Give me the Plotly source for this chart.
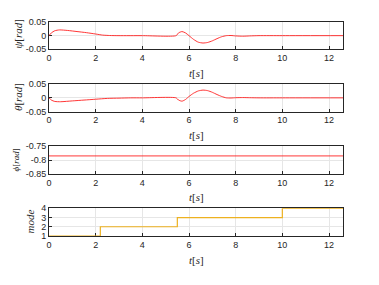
import plotly.graph_objects as go

# ---- data ----
t_psi = [0, 0.1, 0.25, 0.45, 0.8, 1.2, 1.6, 2.0, 2.3, 2.6, 3.0, 4.0, 5.45, 5.55, 5.7, 5.85, 6.0, 6.2, 6.4, 6.6, 6.8, 7.0, 7.2, 7.4, 7.6, 7.8, 8.0, 8.3, 8.6, 9.0, 10.0, 12.6]
psi = [0, 0.010, 0.018, 0.021, 0.019, 0.015, 0.011, 0.006, 0.002, 0.0005, 0, 0, 0, 0.010, 0.015, 0.010, 0.000, -0.014, -0.024, -0.027, -0.025, -0.019, -0.011, -0.004, 0.000, 0.0005, -0.001, -0.002, -0.001, 0, 0, 0]

t_theta = [0, 0.1, 0.25, 0.5, 1.0, 1.5, 2.0, 2.5, 3.0, 3.5, 4.0, 5.45, 5.55, 5.7, 5.85, 6.0, 6.2, 6.4, 6.6, 6.8, 7.0, 7.2, 7.4, 7.6, 7.8, 8.0, 8.3, 8.6, 9.0, 10.0, 12.6]
theta = [0, -0.008, -0.013, -0.014, -0.011, -0.008, -0.005, -0.002, -0.001, 0, 0, 0, -0.008, -0.012, -0.006, 0.005, 0.017, 0.025, 0.028, 0.026, 0.020, 0.012, 0.005, 0.000, -0.0005, 0.0005, 0.001, 0.0005, 0, 0, 0]

t_phi = [0, 12.6]
phi = [-0.7854, -0.7854]

t_mode = [0, 2.2, 5.5, 10.0, 12.6]
mode = [1, 2, 3, 4, 4]

x_ticks = [0, 2, 4, 6, 8, 10, 12]

# ---- layout geometry (page has an 8px body margin) ----
OFF = 8
W, H = 379 - OFF, 285 - OFF

def px(x):
    return (x - OFF) / W

def py(y):
    return 1 - (y - OFF) / H

x0, x1 = px(49), px(343)
boxes = [(22, 49.3), (84, 111.7), (146, 174), (208.3, 236)]
doms = [[py(b), py(t)] for t, b in boxes]

axcol = "#262626"
gridcol = "#e6e6e6"
tickfont = dict(family="Liberation Sans, Arial, sans-serif", size=9, color=axcol)
serif = "Liberation Serif, DejaVu Serif, serif"

fig = go.Figure()
red = "#ff2020"
fig.add_trace(go.Scatter(x=t_psi, y=psi, mode="lines", line=dict(color=red, width=0.9, shape="spline", smoothing=0.6), xaxis="x", yaxis="y"))
fig.add_trace(go.Scatter(x=t_theta, y=theta, mode="lines", line=dict(color=red, width=0.9, shape="spline", smoothing=0.6), xaxis="x2", yaxis="y2"))
fig.add_trace(go.Scatter(x=t_phi, y=phi, mode="lines", line=dict(color=red, width=0.9), xaxis="x3", yaxis="y3"))
fig.add_trace(go.Scatter(x=t_mode, y=mode, mode="lines", cliponaxis=False,
                         line=dict(color="#EDB120", width=1.2, shape="hv"), xaxis="x4", yaxis="y4"))

ytitles = ["<i>ψ</i>[<i>rad</i>]", "<i>θ</i>[<i>rad</i>]", "<i>ϕ</i>[<i>rad</i>]", "<i>mode</i>"]
ytitle_pos = [(17.5, 34), (18, 97), (15.5, 160), (29.5, 222)]
ytitle_sizes = [11, 11, 9, 11]
xtitle_y = [73, 135, 197, 260]
yranges = [[-0.05, 0.05], [-0.05, 0.05], [-0.85, -0.75], [1, 4]]
yticks = [[-0.05, 0, 0.05], [-0.05, 0, 0.05], [-0.85, -0.8, -0.75], [1, 2, 3, 4]]
yticktext = [["-0.05", "0", "0.05"], ["-0.05", "0", "0.05"], ["-0.85", "-0.8", "-0.75"], ["1", "2", "3", "4"]]

common = dict(showline=True, linecolor=axcol, linewidth=0.7, mirror=True,
              ticks="inside", ticklen=3, tickcolor=axcol, tickwidth=0.7,
              showgrid=True, gridcolor=gridcol, gridwidth=0.7, zeroline=False,
              tickfont=tickfont, automargin=False, layer="below traces")

lay = {}
annos = []
for i in range(4):
    sx = "" if i == 0 else str(i + 1)
    lay["xaxis" + sx] = dict(domain=[x0, x1], range=[0, 12.6], tickvals=x_ticks,
                            anchor="y" + sx, **common)
    lay["yaxis" + sx] = dict(domain=doms[i], range=yranges[i], tickvals=yticks[i],
                            ticktext=yticktext[i], anchor="x" + sx, **common)
    annos.append(dict(text="<i>t</i>[<i>s</i>]", xref="paper", yref="paper",
                      x=px(196.5), y=py(xtitle_y[i]), xanchor="center", yanchor="middle",
                      showarrow=False, font=dict(family=serif, size=11, color=axcol)))
    tx, ty = ytitle_pos[i]
    annos.append(dict(text=ytitles[i], xref="paper", yref="paper",
                      x=px(tx), y=py(ty), xanchor="center", yanchor="middle", textangle=-90,
                      showarrow=False, font=dict(family=serif, size=ytitle_sizes[i], color=axcol)))

fig.update_layout(width=W, height=H, margin=dict(l=0, r=0, t=0, b=0),
                  paper_bgcolor="white", plot_bgcolor="white", showlegend=False,
                  annotations=annos, **lay)

fig.write_html("out.html")
